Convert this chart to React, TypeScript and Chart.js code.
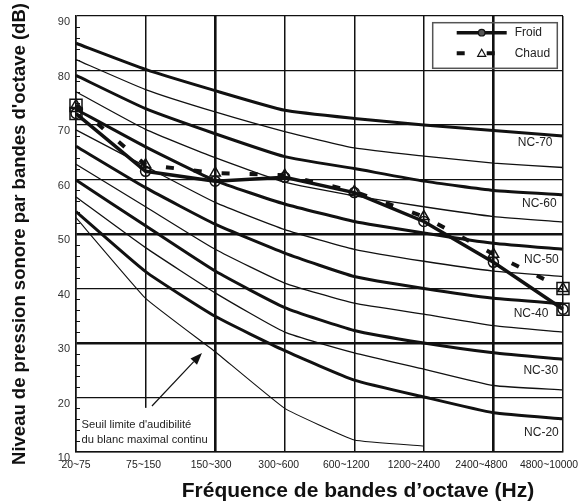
import React, { useEffect, useRef } from 'react';
import { Chart, registerables } from 'chart.js';

Chart.register(...registerables);

const FAMILY = "'Liberation Sans', Arial, Helvetica, sans-serif";

// Octave bands (Hz)
const bands = ['20~75', '75~150', '150~300', '300~600', '600~1200', '1200~2400', '2400~4800', '4800~10000'];

// NC curves (dB) per octave band
const nc70 = [85, 80.2, 76.3, 72.7, 71.2, 70, 69, 68];
const nc65 = [82, 76.5, 72.4, 68.8, 65.8, 64.3, 63, 62.2];
const nc60 = [79.1, 73, 68.4, 64.2, 62, 59.7, 58, 57.2];
const nc55 = [76.1, 69.2, 64, 59.5, 57, 55, 53.2, 52.2];
const nc50 = [72.9, 66, 59.8, 55.5, 52.3, 50.2, 48.3, 47.2];
const nc45 = [69.1, 62.4, 55.8, 50.8, 47.2, 45, 43.2, 42.2];
const nc40 = [66.1, 58.5, 51.8, 46.5, 42.2, 40, 38.2, 37.2];
const nc35 = [62.8, 55, 47.2, 41, 37.3, 35.3, 33.2, 32];
const nc30 = [59.9, 51.5, 43.2, 36.5, 32.3, 30, 28.2, 27];
const nc25 = [56.8, 47.5, 39.2, 32, 28.2, 25.2, 22.2, 21.4];
const nc20 = [54.1, 43.1, 34.9, 28.6, 23.2, 20.1, 17.2, 16.1];
const threshold = [53, 38.2, 28.4, 18, 12.2, 11.1, null, null];

// Measured spectra (dB)
const froid = [72.1, 61.5, 59.7, 60.4, 57.6, 52.3, 44.8, 36.2];
const chaud = [73.6, 62.7, 61.2, 60.8, 57.8, 53.2, 46.3, 40.0];

// Axis ticks
const yMin = 10;
const yMax = 90;
const yStep = 2;

// Right-hand curve labels: text, value (dB), band position
const ncLabelText = ['NC-70', 'NC-60', 'NC-50', 'NC-40', 'NC-30', 'NC-20'];
const ncLabelValue = [66.75, 55.6, 45.2, 35.3, 24.9, 13.5];
const ncLabelBand = [6.6, 6.66, 6.69, 6.54, 6.68, 6.69];

// Threshold note
const noteLines = ["Seuil limite d'audibilité", 'du blanc maximal continu'];
const noteLineValue = [14.95, 12.2];
const noteBoxTop = 18.1;
const arrowFrom = [1.092, 18.44];
const arrowTo = [1.811, 28.17];

const yTitle = "Niveau de pression sonore par bandes d'octave (dB)";
const xTitle = 'Fréquence de bandes d’octave (Hz)';

const ncSeries: [string, (number | null)[], boolean][] = [
  ['NC-70', nc70, true],
  ['NC-65', nc65, false],
  ['NC-60', nc60, true],
  ['NC-55', nc55, false],
  ['NC-50', nc50, true],
  ['NC-45', nc45, false],
  ['NC-40', nc40, true],
  ['NC-35', nc35, false],
  ['NC-30', nc30, true],
  ['NC-25', nc25, false],
  ['NC-20', nc20, true],
];

const endsOnly = (arr: number[]) => arr.map((v, i) => (i === 0 || i === arr.length - 1 ? v : null));

const overlayPlugin = {
  id: 'overlay',
  afterDatasetsDraw(chart: any) {
    const { ctx, chartArea, scales } = chart;
    const x = scales.x;
    const y = scales.y;
    ctx.save();

    // white note box
    const bx0 = chartArea.left + 1;
    const bx1 = x.getPixelForValue(2) - 1.5;
    const by0 = y.getPixelForValue(noteBoxTop);
    const by1 = chartArea.bottom - 1;
    ctx.fillStyle = '#fff';
    ctx.fillRect(bx0, by0, bx1 - bx0, by1 - by0);

    ctx.fillStyle = '#222';
    ctx.font = `11.2px ${FAMILY}`;
    ctx.textAlign = 'left';
    ctx.textBaseline = 'middle';
    noteLines.forEach((t, i) => {
      ctx.fillText(t, chartArea.left + 5.5, y.getPixelForValue(noteLineValue[i]));
    });

    // arrow
    const ax0 = x.getPixelForValue(arrowFrom[0]);
    const ay0 = y.getPixelForValue(arrowFrom[1]);
    const ax1 = x.getPixelForValue(arrowTo[0]);
    const ay1 = y.getPixelForValue(arrowTo[1]);
    const ang = Math.atan2(ay1 - ay0, ax1 - ax0);
    const hl = 12;
    const hw = 4.5;
    const bxp = ax1 - hl * Math.cos(ang);
    const byp = ay1 - hl * Math.sin(ang);
    ctx.strokeStyle = '#111';
    ctx.lineWidth = 1.2;
    ctx.beginPath();
    ctx.moveTo(ax0, ay0);
    ctx.lineTo(bxp, byp);
    ctx.stroke();
    ctx.fillStyle = '#111';
    ctx.beginPath();
    ctx.moveTo(ax1, ay1);
    ctx.lineTo(bxp + hw * Math.sin(ang), byp - hw * Math.cos(ang));
    ctx.lineTo(bxp - hw * Math.sin(ang), byp + hw * Math.cos(ang));
    ctx.closePath();
    ctx.fill();

    // NC labels
    ctx.fillStyle = '#222';
    ctx.font = `12px ${FAMILY}`;
    ctx.textAlign = 'center';
    ncLabelText.forEach((t, i) => {
      ctx.fillText(t, x.getPixelForValue(ncLabelBand[i]), y.getPixelForValue(ncLabelValue[i]));
    });
    ctx.restore();
  },
  afterDraw(chart: any) {
    const { ctx, chartArea, scales, data, height } = chart;
    const x = scales.x;
    const y = scales.y;
    ctx.save();

    // minor ticks inside the y axis
    ctx.strokeStyle = '#111';
    ctx.lineWidth = 1;
    y.ticks.forEach((t: any) => {
      if (t.value % 10 !== 0) {
        const py = Math.round(y.getPixelForValue(t.value)) + 0.5;
        ctx.beginPath();
        ctx.moveTo(chartArea.left, py);
        ctx.lineTo(chartArea.left + 4, py);
        ctx.stroke();
      }
    });

    // x tick labels (slightly compressed spacing so the last one fits)
    ctx.fillStyle = '#222';
    ctx.font = `10.4px ${FAMILY}`;
    ctx.textAlign = 'center';
    ctx.textBaseline = 'middle';
    bands.forEach((b, i) => {
      const px = x.getPixelForValue(i);
      const cx = chartArea.left + (px - chartArea.left) * 0.9714;
      ctx.fillText(b, cx, chartArea.bottom + 13.5);
    });

    // x title
    ctx.fillStyle = '#111';
    ctx.font = `bold 21px ${FAMILY}`;
    ctx.textAlign = 'center';
    ctx.textBaseline = 'alphabetic';
    ctx.fillText(xTitle, chartArea.left + (chartArea.right - chartArea.left) * 0.579, height - 4);

    // legend
    const lx0 = chartArea.right - 130.3;
    const lx1 = chartArea.right - 5.7;
    const ly0 = chartArea.top + 6.7;
    const ly1 = chartArea.top + 52.3;
    ctx.strokeStyle = '#555';
    ctx.lineWidth = 1.5;
    ctx.strokeRect(lx0, ly0, lx1 - lx0, ly1 - ly0);

    const dsF = data.datasets.find((d: any) => d.label === 'Froid');
    const dsC = data.datasets.find((d: any) => d.label === 'Chaud');
    const r1 = ly0 + 10;
    const r2 = ly0 + 30.6;
    const sx0 = lx0 + 24;
    const sx1 = lx0 + 74;
    const smid = (sx0 + sx1) / 2;
    // Froid
    ctx.strokeStyle = '#111';
    ctx.lineWidth = dsF.borderWidth;
    ctx.beginPath();
    ctx.moveTo(sx0, r1);
    ctx.lineTo(sx1, r1);
    ctx.stroke();
    ctx.fillStyle = '#555';
    ctx.lineWidth = 1.2;
    ctx.beginPath();
    ctx.arc(smid, r1, 3.3, 0, Math.PI * 2);
    ctx.fill();
    ctx.stroke();
    // Chaud
    ctx.lineWidth = dsC.borderWidth;
    ctx.beginPath();
    ctx.moveTo(sx0, r2);
    ctx.lineTo(sx0 + 8, r2);
    ctx.moveTo(smid + 5, r2);
    ctx.lineTo(smid + 13, r2);
    ctx.stroke();
    ctx.lineWidth = 1.2;
    ctx.beginPath();
    ctx.moveTo(smid, r2 - 4);
    ctx.lineTo(smid + 4, r2 + 3);
    ctx.lineTo(smid - 4, r2 + 3);
    ctx.closePath();
    ctx.fillStyle = '#fff';
    ctx.fill();
    ctx.stroke();

    ctx.fillStyle = '#222';
    ctx.font = `12px ${FAMILY}`;
    ctx.textAlign = 'left';
    ctx.textBaseline = 'middle';
    ctx.fillText(dsF.label, lx0 + 82, r1);
    ctx.fillText(dsC.label, lx0 + 82, r2);

    ctx.restore();
  },
};

export default function App() {
  const canvasRef = useRef<HTMLCanvasElement | null>(null);

  useEffect(() => {
    document.body.style.margin = '0';
    const canvas = canvasRef.current;
    if (!canvas) return;

    const ncDatasets = ncSeries.map(([label, data, thick]) => ({
      label,
      data,
      borderColor: '#111',
      borderWidth: thick ? 3 : 1.3,
      pointRadius: 0,
      tension: 0.15,
      fill: false,
      order: 10,
    }));

    const chart = new Chart(canvas, {
      type: 'line',
      data: {
        labels: bands,
        datasets: [
          ...ncDatasets,
          {
            label: 'Seuil',
            data: threshold,
            borderColor: '#111',
            borderWidth: 1.1,
            pointRadius: 0,
            tension: 0.1,
            spanGaps: false,
            fill: false,
            order: 9,
          },
          {
            label: 'Froid',
            data: froid,
            borderColor: '#111',
            borderWidth: 3.5,
            pointStyle: 'circle',
            pointRadius: 5,
            pointBorderWidth: 1.5,
            pointBorderColor: '#111',
            pointBackgroundColor: 'rgba(0,0,0,0)',
            tension: 0,
            fill: false,
            order: 2,
          },
          {
            label: 'Chaud',
            data: chaud,
            borderColor: '#111',
            borderWidth: 4,
            borderDash: [8, 20],
            borderCapStyle: 'butt',
            pointStyle: 'triangle',
            pointRadius: 6,
            pointBorderWidth: 1.5,
            pointBorderColor: '#111',
            pointBackgroundColor: 'rgba(0,0,0,0)',
            tension: 0,
            fill: false,
            order: 1,
          },
          {
            label: 'Froid-ends',
            data: endsOnly(froid),
            showLine: false,
            pointStyle: 'rect',
            pointRadius: 8.5,
            pointBorderWidth: 1.5,
            pointBorderColor: '#111',
            pointBackgroundColor: 'rgba(0,0,0,0)',
            order: 0,
          },
          {
            label: 'Chaud-ends',
            data: endsOnly(chaud),
            showLine: false,
            pointStyle: 'rect',
            pointRadius: 8.5,
            pointBorderWidth: 1.5,
            pointBorderColor: '#111',
            pointBackgroundColor: 'rgba(0,0,0,0)',
            order: 0,
          },
        ] as any,
      },
      options: {
        responsive: false,
        animation: false,
        events: [],
        layout: { padding: { left: 0, top: 16, right: 19, bottom: 0 } },
        plugins: {
          legend: { display: false },
          tooltip: { enabled: false },
        },
        scales: {
          x: {
            type: 'category',
            offset: false,
            grid: {
              offset: false,
              color: '#111',
              lineWidth: (c: any) => (c.index === 2 || c.index === 6 ? 2.6 : 1.5),
              drawTicks: false,
            },
            border: { display: true, color: '#111', width: 1.5 },
            ticks: { display: false },
            afterFit: (s: any) => {
              s.height = 49;
              s.paddingLeft = 0;
              s.paddingRight = 0;
            },
          },
          y: {
            type: 'linear',
            min: yMin,
            max: yMax,
            grid: {
              color: (c: any) => (c.tick && c.tick.value % 10 === 0 ? '#111' : 'rgba(0,0,0,0)'),
              lineWidth: (c: any) => (c.tick && (c.tick.value === 30 || c.tick.value === 50) ? 2.6 : 1.3),
              drawTicks: false,
            },
            border: { display: true, color: '#111', width: 1.5 },
            ticks: {
              stepSize: yStep,
              autoSkip: false,
              padding: 6,
              labelOffset: 6,
              color: '#333',
              font: { family: FAMILY, size: 11 },
              callback: (v: any) => (Number(v) % 10 === 0 ? String(v) : ''),
            },
            title: {
              display: true,
              text: yTitle,
              color: '#111',
              font: { family: FAMILY, size: 18.5, weight: 'bold' },
              padding: { top: 9, bottom: 0 },
            },
            afterFit: (s: any) => {
              s.width = 76;
            },
          },
        },
      } as any,
      plugins: [overlayPlugin],
    });

    return () => chart.destroy();
  }, []);

  return (
    <div style={{ width: 582, height: 501, background: '#fff' }}>
      <canvas ref={canvasRef} width={582} height={501} style={{ display: 'block' }} />
    </div>
  );
}
